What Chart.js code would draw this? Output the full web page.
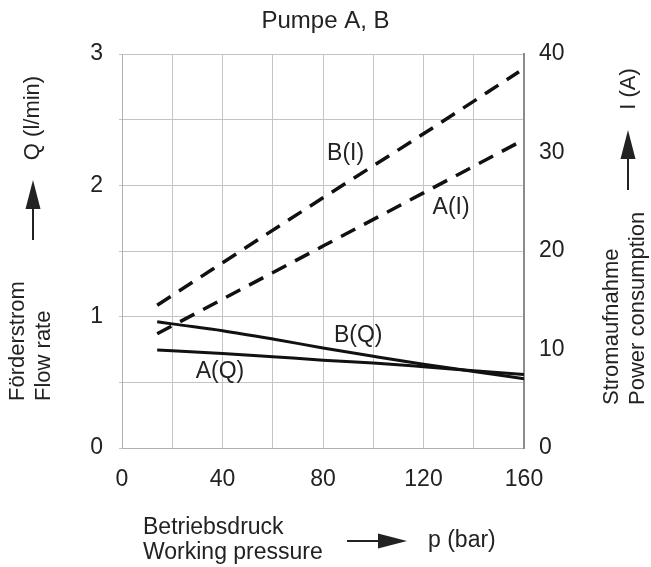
<!DOCTYPE html>
<html>
<head>
<meta charset="utf-8">
<script src="https://cdn.jsdelivr.net/npm/chart.js@4.4.1/dist/chart.umd.min.js"></script>
<style>
  html, body { margin: 0; padding: 0; background: #fff; }
</style>
</head>
<body>
<canvas id="pumpChart" width="651" height="567"></canvas>
<script>
// pressure (bar) where the flow curves were read
const pressureQ = [14, 20, 40, 60, 80, 100, 120, 140, 160];
const flowA = [0.746, 0.741, 0.72, 0.695, 0.669, 0.647, 0.619, 0.589, 0.56];
const flowB = [0.962, 0.945, 0.893, 0.83, 0.762, 0.698, 0.637, 0.583, 0.527];

// current curves (right axis)
const pressureIA = [14, 80, 120, 160];
const currentA = [11.6, 20.5, 25.9, 31.3];
const pressureIB = [14, 80, 120, 158];
const currentB = [14.5, 25.4, 31.9, 38.2];

const pressureTicks = [0, 40, 80, 120, 160];
const flowTicks = [0, 1, 2, 3];
const currentTicks = [0, 10, 20, 30, 40];

const curveNames = ["A(Q)", "B(Q)", "A(I)", "B(I)"];
// where the curve names sit, in data units (pressure, flow)
const namePressure = [39, 94, 131, 89];
const nameFlow = [0.579, 0.857, 1.831, 2.243];

const ink = "#222";
const FONT = "Liberation Sans, Arial, sans-serif";

function toPoints(xs, ys) {
  return xs.map((x, i) => ({ x: x, y: ys[i] }));
}

function arrow(ctx, x1, y1, x2, y2) {
  const ang = Math.atan2(y2 - y1, x2 - x1);
  const head = 29, half = 7.5;
  const bx = x2 - head * Math.cos(ang), by = y2 - head * Math.sin(ang);
  ctx.beginPath();
  ctx.moveTo(x1, y1);
  ctx.lineTo(bx, by);
  ctx.lineWidth = 2;
  ctx.strokeStyle = ink;
  ctx.stroke();
  ctx.beginPath();
  ctx.moveTo(x2, y2);
  ctx.lineTo(bx - half * Math.sin(ang), by + half * Math.cos(ang));
  ctx.lineTo(bx + half * Math.sin(ang), by - half * Math.cos(ang));
  ctx.closePath();
  ctx.fillStyle = ink;
  ctx.fill();
}

function upText(ctx, str, x, y, align) {
  ctx.save();
  ctx.translate(x, y);
  ctx.rotate(-Math.PI / 2);
  ctx.textAlign = align;
  ctx.textBaseline = "middle";
  ctx.fillText(str, 0, 0);
  ctx.restore();
}

const extras = {
  id: "extras",
  afterDraw(chart) {
    const ctx = chart.ctx;
    const xs = chart.scales.x, ys = chart.scales.y;
    ctx.save();
    ctx.fillStyle = ink;
    ctx.font = "23px " + FONT;

    // curve names
    ctx.textAlign = "center";
    ctx.textBaseline = "middle";
    curveNames.forEach((n, i) => {
      ctx.fillText(n, xs.getPixelForValue(namePressure[i]), ys.getPixelForValue(nameFlow[i]));
    });

    // bottom axis title
    ctx.textAlign = "left";
    ctx.fillText("Betriebsdruck", 143, 528);
    ctx.fillText("Working pressure", 143, 553);
    ctx.fillText("p (bar)", 428, 541);
    arrow(ctx, 347, 541, 407, 541);

    ctx.font = "22px " + FONT;
    // left axis title
    upText(ctx, "Förderstrom", 18, 401, "left");
    upText(ctx, "Flow rate", 44, 401, "left");
    upText(ctx, "Q (l/min)", 33, 118, "center");
    arrow(ctx, 33, 240, 33, 180);

    // right axis title
    upText(ctx, "Stromaufnahme", 612, 405, "left");
    upText(ctx, "Power consumption", 638, 405, "left");
    upText(ctx, "I (A)", 629, 89, "center");
    arrow(ctx, 628, 190, 628, 130);
    ctx.restore();
  }
};

Chart.defaults.font.family = FONT;
Chart.defaults.font.size = 23;
Chart.defaults.color = ink;

const dash = [16, 10];
const ctx = document.getElementById("pumpChart").getContext("2d");
new Chart(ctx, {
  type: "line",
  data: {
    datasets: [
      { label: "A(Q)", data: toPoints(pressureQ, flowA), yAxisID: "y" },
      { label: "B(Q)", data: toPoints(pressureQ, flowB), yAxisID: "y" },
      { label: "A(I)", data: toPoints(pressureIA, currentA), yAxisID: "y1", borderDash: dash, borderWidth: 3.5, tension: 0 },
      { label: "B(I)", data: toPoints(pressureIB, currentB), yAxisID: "y1", borderDash: dash, borderWidth: 3.5, tension: 0 }
    ]
  },
  options: {
    responsive: false,
    animation: false,
    elements: {
      line: { borderColor: "#111", borderWidth: 3, cubicInterpolationMode: "monotone", borderCapStyle: "butt" },
      point: { radius: 0 }
    },
    plugins: {
      legend: { display: false },
      tooltip: { enabled: false },
      title: {
        display: true,
        text: "Pumpe A, B",
        color: ink,
        font: { size: 24, weight: "normal" },
        padding: { top: 7, bottom: 18.2 }
      }
    },
    scales: {
      x: {
        type: "linear",
        min: 0,
        max: 160,
        afterFit: s => { s.height = 119; },
        ticks: {
          stepSize: 20,
          padding: 18,
          maxRotation: 0,
          callback: v => pressureTicks.includes(v) ? v : ""
        },
        grid: { color: "#c4c4c4", lineWidth: 1, drawTicks: false },
        border: { color: "#b0b0b0", width: 1 }
      },
      y: {
        position: "left",
        min: 0,
        max: 3,
        afterFit: s => { s.width = 122; },
        ticks: {
          stepSize: 0.5,
          padding: 16,
          callback: v => flowTicks.includes(v) ? v : ""
        },
        grid: { color: "#c4c4c4", lineWidth: 1, tickLength: 3 },
        border: { color: "#b0b0b0", width: 1 }
      },
      y1: {
        position: "right",
        min: 0,
        max: 40,
        afterFit: s => { s.width = 127; },
        ticks: {
          stepSize: 10,
          padding: 15,
          callback: v => currentTicks.includes(v) ? v : ""
        },
        grid: { display: false, drawTicks: false },
        border: { display: true, color: "#8c8c8c", width: 2 }
      }
    }
  },
  plugins: [extras]
});
</script>
</body>
</html>
